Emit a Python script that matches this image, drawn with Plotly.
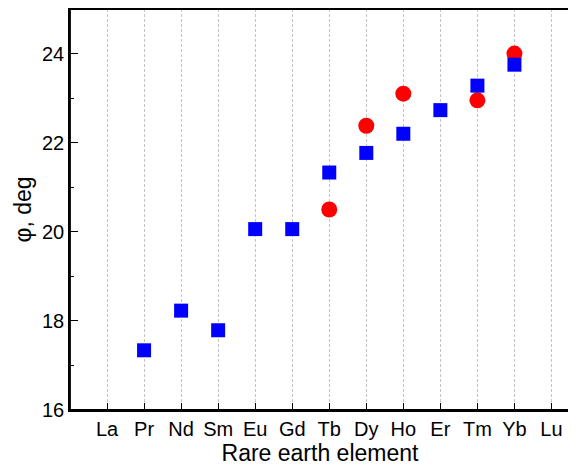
import plotly.graph_objects as go

elements = ["La", "Pr", "Nd", "Sm", "Eu", "Gd", "Tb", "Dy", "Ho", "Er", "Tm", "Yb", "Lu"]

blue_x = ["Pr", "Nd", "Sm", "Eu", "Gd", "Tb", "Dy", "Ho", "Er", "Tm", "Yb"]
blue_y = [17.34, 18.23, 17.79, 20.06, 20.06, 21.33, 21.77, 22.20, 22.73, 23.28, 23.75]

red_x = ["Tb", "Dy", "Ho", "Tm", "Yb"]
red_y = [20.50, 22.38, 23.10, 22.95, 24.00]

y_ticks = [16, 18, 20, 22, 24]

fig = go.Figure()
fig.add_trace(go.Scatter(x=red_x, y=red_y, mode="markers",
                         marker=dict(symbol="circle", size=16, color="#ff0000", line=dict(width=0)),
                         showlegend=False))
fig.add_trace(go.Scatter(x=blue_x, y=blue_y, mode="markers",
                         marker=dict(symbol="square", size=14, color="#0000ff", line=dict(width=0)),
                         showlegend=False))

tick_font = dict(family="Liberation Sans, Arial, sans-serif", size=20, color="black")
title_font = dict(family="Liberation Sans, Arial, sans-serif", size=23, color="black")

fig.update_layout(
    width=568, height=466,
    margin=dict(l=62, r=6, t=1, b=64),
    paper_bgcolor="white", plot_bgcolor="white",
    font=tick_font,
    shapes=[dict(type="rect", xref="paper", yref="paper", x0=0, x1=1, y0=0, y1=1,
                 line=dict(color="black", width=1.8), fillcolor="rgba(0,0,0,0)", layer="above")],
    xaxis=dict(
        type="category", categoryorder="array", categoryarray=elements,
        range=[-1, 12.5], automargin=False,
        showline=True, linecolor="black", linewidth=1.5, mirror=True,
        ticks="inside", ticklen=7, tickwidth=1.3, tickcolor="black",
        showgrid=True, gridcolor="#c4c4c4", gridwidth=1, griddash="3px,2px",
        zeroline=False,
        tickfont=tick_font,
        title=dict(text="Rare earth element", font=title_font, standoff=4),
    ),
    yaxis=dict(
        range=[16, 25], automargin=False,
        tickvals=y_ticks,
        showline=True, linecolor="black", linewidth=1.5, mirror=True,
        ticks="inside", ticklen=8, tickwidth=1.3, tickcolor="black",
        minor=dict(ticks="inside", ticklen=4, tickwidth=1.3, tickcolor="black",
                   tickvals=[17, 19, 21, 23, 25], showgrid=False),
        showgrid=False, zeroline=False,
        tickfont=tick_font,
        title=dict(text="φ, deg", font=title_font, standoff=4),
    ),
)

fig.write_html("out.html")
